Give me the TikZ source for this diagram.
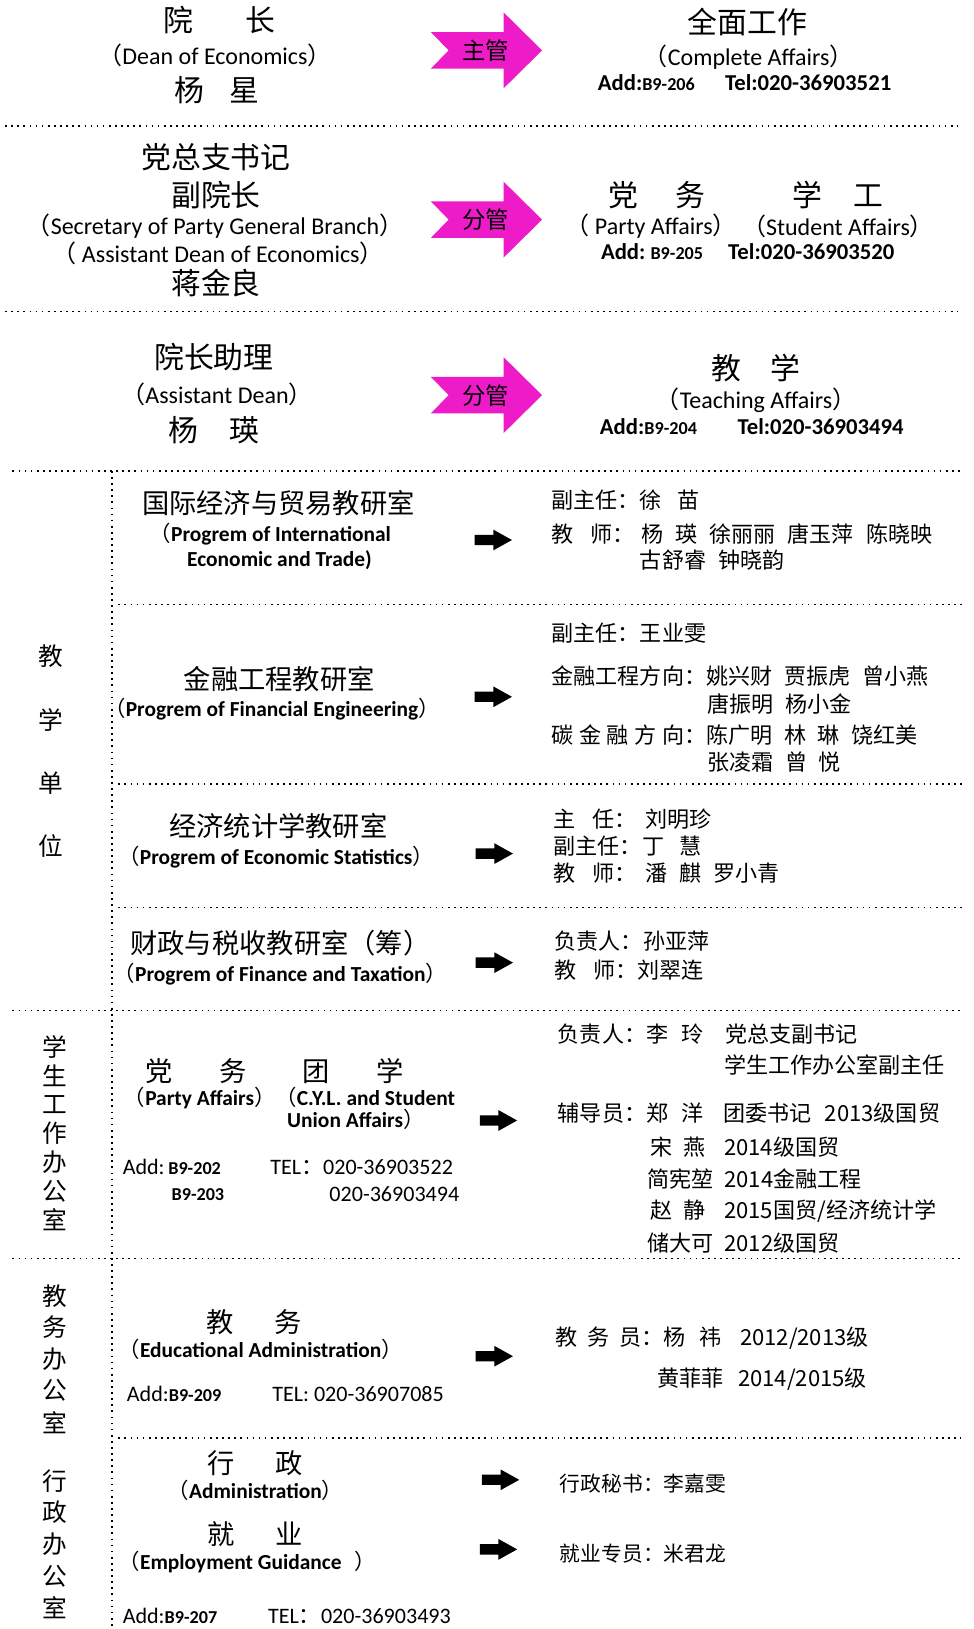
\documentclass[tikz,border=0pt]{standalone}
\usepackage{fontspec}
\setmainfont{Noto Sans CJK SC}
\newfontfamily\en{Carlito}
\newfontfamily\cjkf{Noto Sans CJK SC}
\definecolor{rosered}{RGB}{238,28,200}
\newcommand{\lp}{{\cjkf\mdseries （}}
\newcommand{\rp}{{\cjkf\mdseries ）}}
\newcommand{\hs}[1][.55em]{\hspace{#1}}
\newcommand{\room}[1]{{\bfseries\fontsize{14}{16}\selectfont #1}}

\begin{document}
\begin{tikzpicture}[x=0.8pt, y=-0.8pt,
    head/.style={font=\fontsize{23}{26}\selectfont, inner sep=0pt},
    unit/.style={font=\fontsize{21}{24}\selectfont, inner sep=0pt},
    side/.style={font=\fontsize{19}{21}\selectfont, inner sep=0pt},
    badge/.style={font=\fontsize{18}{20}\selectfont, inner sep=0pt},
    eng/.style={font=\en\fontsize{18.5}{20}\selectfont, inner sep=0pt},
    engb/.style={font=\en\bfseries\fontsize{16.5}{18}\selectfont, inner sep=0pt},
    addr/.style={font=\en\bfseries\fontsize{17.5}{19}\selectfont, inner sep=0pt},
    tel/.style={anchor=west, font=\en\fontsize{17}{19}\selectfont, inner sep=0pt},
    list/.style={anchor=west, font=\fontsize{17}{19}\selectfont, inner sep=0pt},
    divider/.style={line width=1.3pt, dash pattern=on 1.3pt off 3.4pt},
    pinkarrow/.pic={
        \fill[rosered] (-53,-17.5) -- (17,-17.5) -- (17,-36.5) -- (54,0)
            -- (17,36.5) -- (17,17.5) -- (-53,17.5) -- (-36,0) -- cycle;
    },
    blackarrow/.pic={
        \fill (-18,-5) -- (0,-5) -- (0,-10) -- (18,0) -- (0,10) -- (0,5) -- (-18,5) -- cycle;
    }
]
    \fill[white] (0,0) rectangle (937,1568.7);
    \useasboundingbox (0,0) rectangle (937,1568.7);

    % --- Dean ---
    \node[head] (dean) at (211,19) {院\hs[1.75em]长};
    \node[eng] (deanen) at (207,53) {\lp Dean of Economics\rp};
    \node[head] (deanname) at (209,87) {杨\hs[.85em]星};
    \pic at (468,48.5) {pinkarrow};
    \node[badge] (zhuguan) at (468,48.5) {主管};
    \node[head] (allwork) at (720,21) {全面工作};
    \node[eng] (allworken) at (721,55) {\lp Complete Affairs\rp};
    \node[addr] (deanaddr) at (717,80) {\hbox to 226pt{Add:\room{B9-206}\hfill Tel:020-36903521}};

    % --- Party secretary ---
    \node[head] (secy) at (208,151) {党总支书记};
    \node[head] (vdean) at (208,188) {副院长};
    \node[eng] (secyen) at (207,218) {\lp Secretary of Party General Branch\rp};
    \node[eng] (vdeanen) at (210,244) {\lp\ Assistant Dean of Economics\rp};
    \node[head] (secyname) at (208,273) {蒋金良};
    \pic at (468,211.5) {pinkarrow};
    \node[badge] (fenguan1) at (468,211.5) {分管};
    \node[head] (party) at (633,188) {党\hs[1.25em]务};
    \node[head] (stud) at (807,188) {学\hs[1.05em]工};
    \node[eng] (partyen) at (627,218) {\lp\ Party Affairs\rp};
    \node[eng] (studen) at (807,218) {\lp Student Affairs\rp};
    \node[addr] (secyaddr) at (720,242) {\hbox to 226pt{Add:\ \room{B9-205}\hfill Tel:020-36903520}};

    % --- Assistant dean ---
    \node[head] (asst) at (206,344) {院长助理};
    \node[eng] (assten) at (209,380) {\lp Assistant Dean\rp};
    \node[head] (asstname) at (206,414) {杨\hs[1.05em]瑛};
    \pic at (468,380.5) {pinkarrow};
    \node[badge] (fenguan2) at (468,380.5) {分管};
    \node[head] (teach) at (728,354) {教\hs[.95em]学};
    \node[eng] (teachen) at (728,385) {\lp Teaching Affairs\rp};
    \node[addr] (asstaddr) at (724,411) {\hbox to 234pt{Add:\room{B9-204}\hfill Tel:020-36903494}};

    % dotted dividers
    \draw[divider] (5,121) -- (922,121);
    \draw[divider] (5,300) -- (922,300);
    \draw[divider] (12,453.5) -- (927,453.5);
    \draw[divider] (108,453.5) -- (108,1568);
    \draw[divider] (114,582) -- (927,582);
    \draw[divider] (114,755) -- (927,755);
    \draw[divider] (114,874) -- (927,874);
    \draw[divider] (12,973) -- (925,973);
    \draw[divider] (12,1212) -- (925,1212);
    \draw[divider] (114,1385) -- (925,1385);

    % --- Teaching units ---
    \foreach \ch [count=\i] in {教,学,单,位}
        \node[side] (jx\i) at (49,{632+61*(\i-1)}) {\ch};

    \node[unit] (intl) at (268,484) {国际经济与贸易教研室};
    \node[engb, anchor=west] (intlen1) at (144,514) {\lp Progrem of International};
    \node[engb, anchor=west] (intlen2) at (180,539) {Economic and Trade)};
    \pic at (475,520) {blackarrow};
    \node[list] (intl1) at (531,482) {副主任：徐\hs[.7em]苗};
    \node[list] (intl2) at (531,514) {教\hs[.75em]师：\hs[.3em]杨\hs 瑛\hs 徐丽丽\hs 唐玉萍\hs 陈晓映};
    \node[list] (intl3) at (616,539) {古舒睿\hs 钟晓韵};

    \node[unit] (fin) at (269,654) {金融工程教研室};
    \node[engb] (finen) at (262,683) {\lp Progrem of Financial Engineering\rp};
    \pic at (475,671) {blackarrow};
    \node[list] (fin1) at (531,610) {副主任：王业雯};
    \node[list] (fin2) at (531,651) {金融工程方向：姚兴财\hs 贾振虎\hs 曾小燕};
    \node[list] (fin3) at (681,678) {唐振明\hs 杨小金};
    \node[list] (fin4) at (531,708) {碳\hs[.25em]金\hs[.25em]融\hs[.25em]方\hs[.25em]向：陈广明\hs 林\hs[.5em]琳\hs 饶红美};
    \node[list] (fin5) at (681,734) {张凌霜\hs 曾\hs[.5em]悦};

    \node[unit] (stat) at (268,795) {经济统计学教研室};
    \node[engb] (staten) at (266,825) {\lp Progrem of\ Economic Statistics\rp};
    \pic at (476,822) {blackarrow};
    \node[list] (stat1) at (533,789) {主\hs[.75em]任：\hs[.4em]刘明珍};
    \node[list] (stat2) at (533,815) {副主任：丁\hs[.7em]慧};
    \node[list] (stat3) at (533,841) {教\hs[.75em]师：\hs[.4em]潘\hs 麒\hs 罗小青};

    \node[unit] (tax) at (270,908) {财政与税收教研室（筹）};
    \node[engb] (taxen) at (270,938) {\lp Progrem of Finance and Taxation\rp};
    \pic at (476,927) {blackarrow};
    \node[list] (tax1) at (534,906) {负责人：孙亚萍};
    \node[list] (tax2) at (534,934) {教\hs[.75em]师：刘翠连};

    % --- Student work office ---
    \foreach \ch [count=\i] in {学,生,工,作,办,公,室}
        \node[side] (xg\i) at (53,{1008+27.8*(\i-1)}) {\ch};
    \node[unit] (stparty) at (189,1031) {党\hs[1.7em]务};
    \node[unit] (styouth) at (340,1031) {团\hs[1.7em]学};
    \node[engb, anchor=west] (stpartyen) at (119,1057) {\lp Party Affairs\rp\lp C.Y.L. and Student};
    \node[engb, anchor=east] (styouthen) at (409,1078) {Union Affairs\rp};
    \node[tel] (staddr) at (118,1124) {Add:\,\room{B9-202}};
    \node[tel] (sttel) at (260,1124) {TEL{\cjkf ：}020-36903522};
    \node[anchor=west, inner sep=0pt, font=\en] (staddr2) at (165,1150) {\room{B9-203}};
    \node[tel] (sttel2) at (317,1150) {020-36903494};
    \pic at (480,1079) {blackarrow};
    \node[list] (st1) at (537,996) {负责人：李\hs[.6em]玲\hs[1em]党总支副书记};
    \node[list] (st2) at (697,1026) {学生工作办公室副主任};
    \node[list] (st3) at (537,1072) {辅导员：郑\hs[.6em]洋\hs[.9em]团委书记\hs[.6em]2013级国贸};
    \node[list] (st4) at (626,1105) {宋\hs[.5em]燕\hs[.85em]2014级国贸};
    \node[list] (st5) at (623,1135) {简宪堃\hs[.5em]2014金融工程};
    \node[list] (st6) at (626,1166) {赵\hs[.5em]静\hs[.85em]2015国贸/经济统计学};
    \node[list] (st7) at (623,1197) {储大可\hs[.5em]2012级国贸};

    % --- Educational administration office ---
    \foreach \ch [count=\i] in {教,务,办,公,室}
        \node[side] (jw\i) at (53,{1248+30.4*(\i-1)}) {\ch};
    \node[unit] (edu) at (245,1273) {教\hs[1.5em]务};
    \node[engb, anchor=west] (eduen) at (114,1299) {\lp Educational Administration\rp};
    \node[tel] (eduaddr) at (122,1342) {Add:\room{B9-209}};
    \node[tel] (edutel) at (262,1342) {TEL: 020-36907085};
    \pic at (476,1306) {blackarrow};
    \node[list] (edu1) at (535,1289) {教\hs[.45em]务\hs[.45em]员：杨\hs[.6em]祎\hs[.85em]2012/2013级};
    \node[list] (edu2) at (633,1328) {黄菲菲\hs[.65em]2014/2015级};

    % --- Administration office ---
    \foreach \ch [count=\i] in {行,政,办,公,室}
        \node[side] (xz\i) at (53,{1426+30.5*(\i-1)}) {\ch};
    \node[unit] (admin) at (246,1409) {行\hs[1.5em]政};
    \node[engb] (adminen) at (246,1435) {\lp Administration\rp};
    \node[unit] (job) at (246,1477) {就\hs[1.5em]业};
    \node[engb, anchor=west] (joben) at (114,1504) {\lp Employment Guidance\hspace{.6em}\rp};
    \pic at (482,1425) {blackarrow};
    \pic at (480,1492) {blackarrow};
    \node[list, font=\fontsize{16}{18}\selectfont] (admin1) at (539,1429) {行政秘书：李嘉雯};
    \node[list, font=\fontsize{16}{18}\selectfont] (job1) at (539,1496) {就业专员：米君龙};
    \node[tel] (adminaddr) at (118,1556) {Add:\room{B9-207}};
    \node[tel] (admintel) at (258,1556) {TEL{\cjkf ：}020-36903493};

\end{tikzpicture}
\end{document}
